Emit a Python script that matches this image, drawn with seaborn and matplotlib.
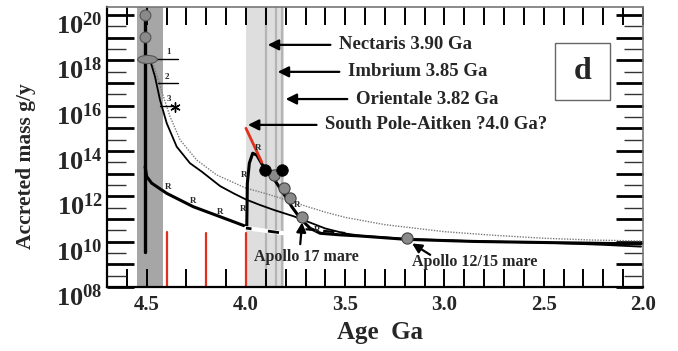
import numpy as np
import pandas as pd
import matplotlib
matplotlib.use("Agg")
import matplotlib.pyplot as plt
import seaborn as sns
from matplotlib.ticker import FixedLocator, FixedFormatter, NullFormatter
from matplotlib.patches import Rectangle
from matplotlib.path import Path
from matplotlib.markers import MarkerStyle
import matplotlib.transforms as mtransforms

# ---------------- data (age in Ga, log10 accreted mass g/y) ----------------
impact_age = [4.51, 4.51]
impact_logm = [20.0, 9.55]

early_dot_age = [4.51, 4.51]
early_dot_logm = [20.0, 19.03]
ellipse_age = [4.50]
ellipse_logm = [18.06]

thin_age = [4.483, 4.458, 4.433, 4.399, 4.349, 4.282, 4.223, 4.13, 4.06, 4.0, 3.93, 3.86,
            3.76, 3.70, 3.60, 3.50, 3.42, 3.19, 2.85, 2.48, 2.20, 2.01]
thin_logm = [18.01, 17.27, 16.25, 15.22, 14.19, 13.46, 13.09, 12.45, 12.12, 11.86, 11.62, 11.40,
             11.12, 10.92, 10.58, 10.36, 10.26, 10.12, 10.02, 9.95, 9.86, 9.78]

dotted_age = [4.475, 4.441, 4.416, 4.382, 4.332, 4.248, 4.147, 4.0, 3.9, 3.8, 3.7, 3.6, 3.5,
              3.3, 3.0, 2.75, 2.5, 2.25, 2.01]
dotted_logm = [18.01, 17.13, 16.40, 15.51, 14.49, 13.60, 12.94, 12.36, 12.12, 11.85, 11.57,
               11.30, 11.07, 10.75, 10.44, 10.28, 10.15, 10.07, 10.03]

thick_age = [4.508, 4.500, 4.475, 4.399, 4.265, 4.130, 3.996, 3.993, 3.983, 3.966, 3.946,
             3.912, 3.862, 3.811, 3.769, 3.727, 3.677, 3.626, 3.526, 3.425, 3.19, 2.855,
             2.484, 2.01]
thick_logm = [13.31, 12.87, 12.58, 12.13, 11.54, 11.10, 10.66, 12.58, 13.46, 13.90, 13.82,
              13.31, 12.80, 12.13, 11.54, 11.03, 10.59, 10.37, 10.30, 10.25, 10.10, 10.01,
              9.96, 9.90]

spa_age = [4.0, 3.92]
spa_logm = [15.0, 13.5]

red_line_ages = [4.4, 4.2, 4.0]
red_line_top = [10.43, 10.40, 10.40]

white_age = [4.0, 3.81]
white_logm = [10.60, 10.37]

dash_age = [3.70, 3.50]
dash_logm = [10.55, 10.38]

black_dot_age = [3.905, 3.82]
black_dot_logm = [13.15, 13.17]
gray_dot_age = [3.86, 3.81, 3.78, 3.72, 3.19]
gray_dot_logm = [12.94, 12.37, 11.93, 11.10, 10.14]

r_label_age = [4.39, 4.265, 4.13, 4.013, 4.008, 3.94, 3.744, 3.64]
r_label_logm = [12.40, 11.78, 11.33, 11.45, 12.95, 14.15, 11.60, 10.50]

num_labels = ["1", "2", "3"]
num_label_age = [4.39, 4.40, 4.39]
num_label_logm = [18.35, 17.28, 16.30]
num_line_start = [4.458, 4.443, 4.433]
num_line_end = [4.342, 4.342, 4.367]
num_line_logm = [18.06, 17.0, 15.99]
star_age = [4.355]
star_logm = [15.94]

basin_names = ["Nectaris 3.90 Ga", "Imbrium 3.85 Ga", "Orientale 3.82 Ga",
               "South Pole-Aitken ?4.0 Ga?"]
basin_tip_age = [3.89, 3.84, 3.80, 3.99]
basin_text_age = [3.53, 3.485, 3.445, 3.60]
basin_text_logm = [18.68, 17.49, 16.29, 15.15]

x_major = [4.5, 4.0, 3.5, 3.0, 2.5, 2.0]
x_labels = ["4.5", "4.0", "3.5", "3.0", "2.5", "2.0"]
y_exponents = list(range(8, 21))

# ---------------- style ----------------
sns.set_theme(style="white")
plt.rcParams['font.family'] = ['Liberation Serif', 'DejaVu Serif']
plt.rcParams['font.weight'] = 'bold'
plt.rcParams['mathtext.fontset'] = 'custom'
plt.rcParams['mathtext.rm'] = 'Liberation Serif:bold'
plt.rcParams['mathtext.bf'] = 'Liberation Serif:bold'
plt.rcParams['mathtext.it'] = 'Liberation Serif:bold'

fig = plt.figure(figsize=(6.78, 3.51), dpi=100)
fig.patch.set_facecolor('white')
ax = fig.add_axes([107 / 678, 1 - 287 / 351, (643 - 107) / 678, (287 - 7) / 351])
ax.set_facecolor('white')
ax.set_yscale('log')

def P(v):
    return [10.0 ** a for a in v]

# bands
ax.axvspan(4.55, 4.42, color='#a6a6a6', zorder=0, lw=0)
ax.axvspan(4.0, 3.81, color='#dedede', zorder=0, lw=0)
for a in [3.90, 3.85, 3.82]:
    ax.axvline(a, color='#b4b4b4', lw=1.6, zorder=0.5)

# red vertical lines
for a, t in zip(red_line_ages, red_line_top):
    ax.plot([a, a], [1e8, 10 ** t], color='#e0301e', lw=1.6, zorder=2)

# curves
sns.lineplot(x=dotted_age, y=P(dotted_logm), ax=ax, sort=False, estimator=None,
             color='#7a7a7a', lw=1.0, linestyle=(0, (1, 1)), zorder=3)
sns.lineplot(x=thin_age, y=P(thin_logm), ax=ax, sort=False, estimator=None,
             color='black', lw=1.3, zorder=3)
sns.lineplot(x=thick_age, y=P(thick_logm), ax=ax, sort=False, estimator=None,
             color='black', lw=2.2, zorder=4)
sns.lineplot(x=impact_age, y=P(impact_logm), ax=ax, sort=False, estimator=None,
             color='black', lw=2.4, zorder=4)
sns.lineplot(x=spa_age, y=P(spa_logm), ax=ax, sort=False, estimator=None,
             color='#e0301e', lw=2.0, zorder=5)
sns.lineplot(x=white_age, y=P(white_logm), ax=ax, sort=False, estimator=None,
             color='white', lw=3.0, zorder=5)
sns.lineplot(x=white_age, y=P(white_logm), ax=ax, sort=False, estimator=None,
             color='black', lw=2.0, linestyle=(2, (4, 6)), zorder=6)
sns.lineplot(x=dash_age, y=P(dash_logm), ax=ax, sort=False, estimator=None,
             color='black', lw=1.6, linestyle=(0, (5, 3)), zorder=5)

# "1 2 3" markers
for lab, ta, tl, s, e, l in zip(num_labels, num_label_age, num_label_logm,
                                 num_line_start, num_line_end, num_line_logm):
    ax.plot([s, e], [10 ** l, 10 ** l], color='black', lw=1.0, zorder=6)
    ax.text(ta, 10 ** tl, lab, fontsize=6.5, ha='center', va='center', zorder=7)
sns.scatterplot(x=star_age, y=P(star_logm), ax=ax, marker=(6, 2, 0), s=45,
                color='black', linewidth=1.0, zorder=7)

# dots
sns.scatterplot(x=early_dot_age, y=P(early_dot_logm), ax=ax, s=60, color='#8a8a8a',
                edgecolor='#555555', linewidth=0.8, zorder=7)
ell = Path.unit_circle().transformed(mtransforms.Affine2D().scale(2.4, 1.0))
sns.scatterplot(x=ellipse_age, y=P(ellipse_logm), ax=ax, s=200, marker=MarkerStyle(ell),
                color='#8a8a8a', edgecolor='#555555', linewidth=0.8, zorder=7)
sns.scatterplot(x=gray_dot_age, y=P(gray_dot_logm), ax=ax, s=65, color='#8a8a8a',
                edgecolor='#444444', linewidth=0.8, zorder=7)
sns.scatterplot(x=black_dot_age, y=P(black_dot_logm), ax=ax, s=70, color='black',
                edgecolor='black', linewidth=0.5, zorder=7)

for a, l in zip(r_label_age, r_label_logm):
    ax.text(a, 10 ** l, "R", fontsize=6.5, ha='center', va='center', zorder=8)

# basin annotations
for name, tip, ta, tl in zip(basin_names, basin_tip_age, basin_text_age, basin_text_logm):
    ax.annotate(name, xy=(tip, 10 ** tl), xytext=(ta, 10 ** tl), fontsize=13.5,
                ha='left', va='center', zorder=9,
                arrowprops=dict(arrowstyle='-|>', color='black', lw=1.6,
                                mutation_scale=16, shrinkA=4, shrinkB=0))

# Apollo annotations
ax.annotate("Apollo 17 mare", xy=(3.717, 10 ** 10.85), xytext=(3.697, 10 ** 9.33),
            fontsize=11.5, ha='center', va='center', zorder=9,
            arrowprops=dict(arrowstyle='-|>', color='black', lw=1.6, mutation_scale=14,
                            shrinkA=1, shrinkB=0, relpos=(0.44, 1.0)))
ax.text(2.85, 10 ** 9.10, "Apollo 12/15 mare", fontsize=11.5, ha='center', va='center',
        zorder=9)
ax.annotate("", xy=(3.163, 10 ** 9.92), xytext=(3.072, 10 ** 9.42),
            arrowprops=dict(arrowstyle='-|>', color='black', lw=1.6, mutation_scale=14,
                            shrinkA=0, shrinkB=0), zorder=9)

# panel label box
ax.add_patch(Rectangle((0.836, 0.668), 0.1026, 0.2036, transform=ax.transAxes,
                       facecolor='white', edgecolor='#666666', lw=1.0, zorder=9))
ax.text(0.887, 0.77, "d", transform=ax.transAxes, fontsize=23, ha='center', va='center',
        zorder=10)

# ---------------- axes ----------------
ax.set_xlim(4.7, 2.0)
ax.set_ylim(1e8, 10 ** 20.35)

ax.xaxis.set_major_locator(FixedLocator(x_major))
ax.xaxis.set_major_formatter(FixedFormatter(x_labels))
ax.xaxis.set_minor_locator(FixedLocator([round(2.0 + 0.1 * i, 1) for i in range(27)]))
ax.xaxis.set_minor_formatter(NullFormatter())

ax.yaxis.set_major_locator(FixedLocator([10.0 ** e for e in y_exponents]))
ax.yaxis.set_major_formatter(FixedFormatter(
    [r'$10^{%02d}$' % e if e % 2 == 0 else '' for e in y_exponents]))
ax.yaxis.set_minor_locator(FixedLocator([10.0 ** (e + 0.5) for e in y_exponents[:-1]]))
ax.yaxis.set_minor_formatter(NullFormatter())

ax.tick_params(axis='x', which='both', direction='in', top=True, bottom=True,
               length=13, width=1.4, color='black', labelsize=15, pad=6)
ax.tick_params(axis='y', which='major', direction='in', left=True, right=True,
               length=19.5, width=2.0, color='black', labelsize=19, pad=3)
ax.tick_params(axis='y', which='minor', direction='in', left=True, right=True,
               length=14, width=1.0, color='#333333')
for lab in ax.get_yticklabels():
    lab.set_fontweight('bold')
for lab in ax.get_xticklabels():
    lab.set_fontweight('bold')

offset = mtransforms.ScaledTranslation(0, -6 / 72, fig.dpi_scale_trans)
for lab in ax.yaxis.get_majorticklabels():
    lab.set_transform(lab.get_transform() + offset)

for side in ['left', 'bottom']:
    ax.spines[side].set_color('black')
    ax.spines[side].set_linewidth(1.6)
for side in ['top', 'right']:
    ax.spines[side].set_color('#777777')
    ax.spines[side].set_linewidth(1.2)

ax.set_xlabel("Age  Ga", fontsize=18, fontweight='bold', va='center')
ax.xaxis.set_label_coords(0.509, -0.164)
ax.set_ylabel("Accreted mass g/y", fontsize=15.5, fontweight='bold', ha='center',
              va='center', rotation_mode='anchor')
ax.yaxis.set_label_coords(-0.152, 0.43)

fig.savefig("out.png", dpi=100, facecolor='white')
